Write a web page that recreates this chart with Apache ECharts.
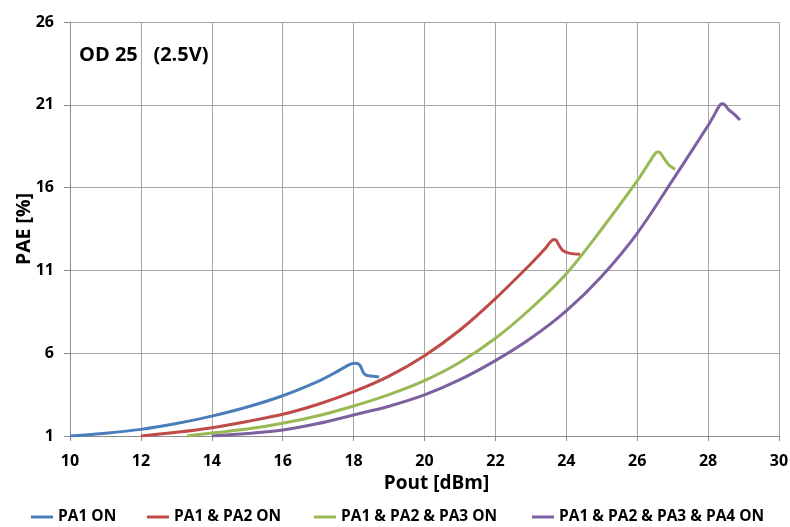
<!DOCTYPE html>
<html>
<head>
<meta charset="utf-8">
<script src="https://cdn.jsdelivr.net/npm/echarts@6/dist/echarts.min.js"></script>
<style>
html,body{margin:0;padding:0;background:#fff;}
#chart{width:790px;height:527px;}
</style>
</head>
<body>
<div id="chart"></div>
<script>
const seriesNames = ['PA1 ON', 'PA1 & PA2 ON', 'PA1 & PA2 & PA3 ON', 'PA1 & PA2 & PA3 & PA4 ON'];
const seriesColors = ['#4a7ebb', '#be4b48', '#98b954', '#7d60a0'];

const pa1X = [10, 11, 12, 13, 14, 15, 16, 17, 17.5, 17.8, 17.95, 18.05, 18.13, 18.2, 18.27, 18.35, 18.5, 18.72];
const pa1Y = [1.0, 1.17, 1.4, 1.75, 2.2, 2.75, 3.43, 4.3, 4.85, 5.22, 5.37, 5.4, 5.36, 5.2, 4.85, 4.68, 4.62, 4.57];

const pa2X = [12, 13, 14, 15, 16, 17, 18, 19, 20, 21, 22, 23, 23.4, 23.55, 23.65, 23.72, 23.8, 23.9, 24.1, 24.39];
const pa2Y = [1.0, 1.22, 1.5, 1.88, 2.31, 2.92, 3.68, 4.62, 5.85, 7.4, 9.3, 11.4, 12.3, 12.72, 12.86, 12.8, 12.5, 12.2, 12.03, 11.97];

const pa3X = [13.3, 14, 15, 16, 17, 18, 19, 20, 21, 22, 23, 24, 25, 26, 26.35, 26.48, 26.57, 26.65, 26.75, 26.88, 27.0, 27.07];
const pa3Y = [1.0, 1.18, 1.42, 1.77, 2.22, 2.81, 3.5, 4.34, 5.45, 6.9, 8.7, 10.8, 13.5, 16.4, 17.55, 17.98, 18.17, 18.1, 17.78, 17.4, 17.2, 17.1];

const pa4X = [14, 15, 16, 17, 18, 19, 20, 21, 22, 23, 24, 25, 26, 27, 28, 28.15, 28.28, 28.38, 28.47, 28.58, 28.71, 28.8, 28.9];
const pa4Y = [1.0, 1.15, 1.36, 1.75, 2.27, 2.8, 3.48, 4.4, 5.55, 6.9, 8.55, 10.65, 13.24, 16.45, 19.75, 20.3, 20.8, 21.06, 21.0, 20.7, 20.48, 20.3, 20.08];

const xTicks = [10, 12, 14, 16, 18, 20, 22, 24, 26, 28, 30];
const yTicks = [1, 6, 11, 16, 21, 26];

const xs = [pa1X, pa2X, pa3X, pa4X];
const ys = [pa1Y, pa2Y, pa3Y, pa4Y];

const FONT = '"Open Sans"';
const chart = echarts.init(document.getElementById('chart'), null, {renderer: 'canvas'});

const legendLefts = [31, 147, 314, 532];

const option = {
  backgroundColor: '#fff',
  animation: false,
  grid: {left: 70, right: 11, top: 22, bottom: 91, containLabel: false, outerBoundsMode: 'none'},
  title: {
    text: 'OD 25   (2.5V)',
    left: 79, top: 45, padding: 0,
    textStyle: {fontFamily: FONT, fontWeight: 'bold', fontSize: 20, color: '#000'}
  },
  legend: seriesNames.map((n, i) => ({
    data: [n],
    left: legendLefts[i],
    top: 509,
    padding: 0,
    itemWidth: 22,
    itemHeight: 3,
    itemGap: 4,
    icon: 'rect',
    textStyle: {fontFamily: FONT, fontWeight: 'bold', fontSize: 15.5, color: '#000'}
  })),
  xAxis: {
    type: 'value',
    min: 10, max: 30, interval: 2,
    name: 'Pout [dBm]',
    nameLocation: 'middle',
    nameGap: 38,
    nameMoveOverlap: false,
    nameTextStyle: {fontFamily: FONT, fontWeight: 'bold', fontSize: 19, color: '#000', padding: [0, 0, 0, 24]},
    axisLine: {show: true, lineStyle: {color: '#8c8c8c', width: 1}},
    axisTick: {show: true, length: 5, lineStyle: {color: '#8c8c8c'}},
    axisLabel: {fontFamily: FONT, fontWeight: 'bold', fontSize: 16, color: '#000', margin: 17,
      customValues: xTicks},
    splitLine: {show: true, lineStyle: {color: '#a6a6a6', width: 1}}
  },
  yAxis: {
    type: 'value',
    min: 1, max: 26,
    name: 'PAE [%]',
    nameLocation: 'middle',
    nameGap: 36,
    nameMoveOverlap: false,
    nameRotate: 90,
    nameTextStyle: {fontFamily: FONT, fontWeight: 'bold', fontSize: 19.5, color: '#000'},
    axisLine: {show: true, lineStyle: {color: '#8c8c8c', width: 1}},
    axisTick: {show: true, length: 6, lineStyle: {color: '#8c8c8c'}, customValues: yTicks},
    axisLabel: {fontFamily: FONT, fontWeight: 'bold', fontSize: 16, color: '#000', margin: 16,
      customValues: yTicks},
    splitLine: {show: true, lineStyle: {color: '#a6a6a6', width: 1}}
  },
  series: seriesNames.map((n, i) => ({
    name: n,
    type: 'line',
    showSymbol: false,
    smooth: 0.3,
    color: seriesColors[i],
    lineStyle: {width: 3, color: seriesColors[i]},
    data: xs[i].map((x, k) => [x, ys[i][k]])
  }))
};
chart.setOption(option);
</script>
</body>
</html>
